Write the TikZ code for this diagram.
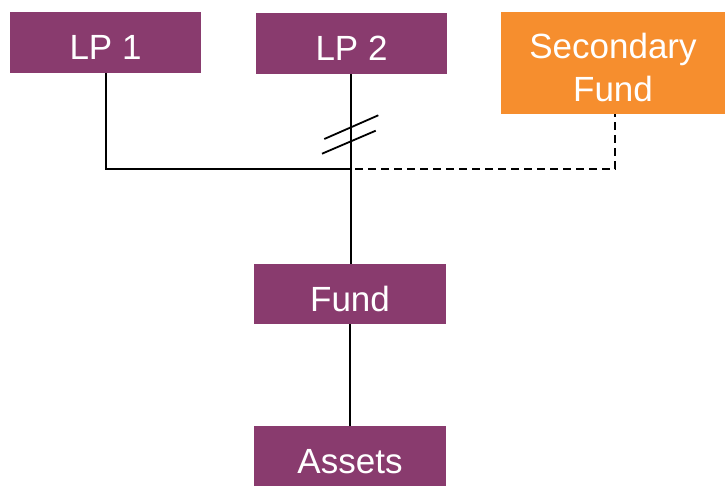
\documentclass[tikz,border=0pt]{standalone}
\usepackage{fontspec}
\setmainfont{Liberation Sans}
\begin{document}
\begin{tikzpicture}[x=1pt,y=-1pt,
  box/.style={rectangle, fill=#1, text=white, inner sep=0pt, align=center,
    font=\fontsize{35}{43}\selectfont},
  box/.default=boxpurple,
  oneline/.style={text height=35pt, text depth=0pt},
  link/.style={line width=1.8pt, black},
  linkdash/.style={line width=1.8pt, black, dash pattern=on 8pt off 5pt}]
\definecolor{boxpurple}{HTML}{893B6E}
\definecolor{boxorange}{HTML}{F68E2E}
\useasboundingbox (0,0) rectangle (725,486);

% boxes
\node[box, oneline, minimum width=191pt, minimum height=61pt] (lp1) at (105.5,42.5) {LP 1};
\node[box, oneline, minimum width=191pt, minimum height=61pt] (lp2) at (351.5,43.5) {LP 2};
\node[box=boxorange, text height=78pt, text depth=0pt,
      minimum width=224pt, minimum height=102pt] (sec) at (613,63) {Secondary\\Fund};
\node[box, oneline, minimum width=192pt, minimum height=60pt] (fund) at (350,294) {Fund};
\node[box, oneline, minimum width=192pt, minimum height=60pt] (assets) at (350,456) {Assets};

% junction points
\coordinate (j) at (351,169);
\coordinate (jd) at (355,169);

% ownership lines
\draw[link] (lp1.south -| 106,0) |- (j);
\draw[link] (lp2.south -| j) -- (fund.north -| j);
\draw[link] (fund.south) -- (assets.north);
\draw[linkdash] (jd) -| (sec.south -| 615,0);

% transfer marks on the LP 2 line
\draw[line width=1.8pt] (324.3,139) -- (378.3,115.3);
\draw[line width=1.8pt] (322,153.7) -- (375.7,130.7);
\end{tikzpicture}
\end{document}
